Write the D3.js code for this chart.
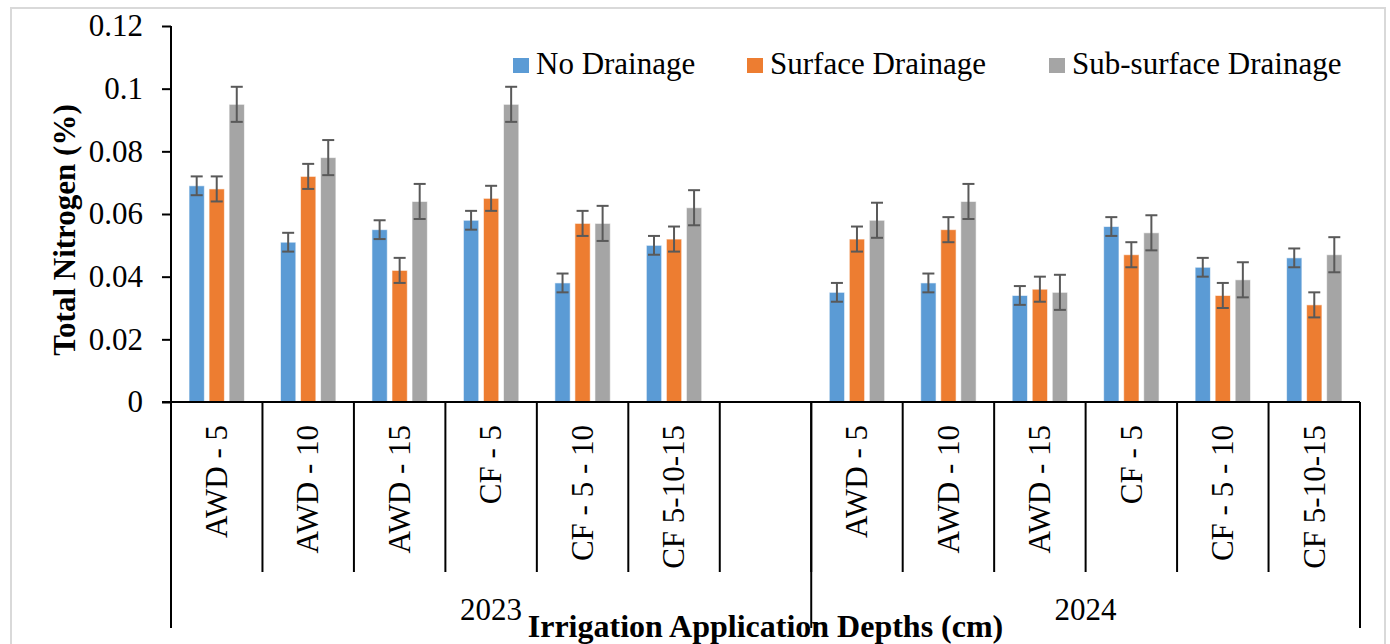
<!DOCTYPE html>
<html>
<head>
<meta charset="utf-8">
<script src="https://cdn.jsdelivr.net/npm/d3@7"></script>
<style>
  body { margin: 0; background: #fff; }
  text { font-family: "Liberation Serif", "Times New Roman", serif; fill: #000; }
</style>
</head>
<body>
<script>
var
  years = ['2023', '2024'],
  treatments = ['AWD - 5', 'AWD - 10', 'AWD - 15', 'CF - 5', 'CF - 5 - 10', 'CF 5-10-15'],
  seriesNames = ['No Drainage', 'Surface Drainage', 'Sub-surface Drainage'],
  seriesColors = ['#5B9BD5', '#ED7D31', '#A5A5A5'],

  // values per year, in treatment order
  noDrainage = {
    '2023': [0.069, 0.051, 0.055, 0.058, 0.038, 0.050],
    '2024': [0.035, 0.038, 0.034, 0.056, 0.043, 0.046]
  },
  surfaceDrainage = {
    '2023': [0.068, 0.072, 0.042, 0.065, 0.057, 0.052],
    '2024': [0.052, 0.055, 0.036, 0.047, 0.034, 0.031]
  },
  subSurfaceDrainage = {
    '2023': [0.095, 0.078, 0.064, 0.095, 0.057, 0.062],
    '2024': [0.058, 0.064, 0.035, 0.054, 0.039, 0.047]
  },
  errors = [0.003, 0.004, 0.0056],

  yTicks = [0, 0.02, 0.04, 0.06, 0.08, 0.1, 0.12],
  yTickLabels = ['0', '0.02', '0.04', '0.06', '0.08', '0.1', '0.12'],

  config = {
    w : 1390,
    h : 644,
    left : 171,
    right : 1360,
    top : 26,
    bottom : 402
  },

  // slot keys: 2023 has a trailing empty slot
  slotKeys = function slotKeys() {
    var keys = [];
    years.forEach(function (y, i) {
      treatments.forEach(function (t) { keys.push(y + '|' + t); });
      if (i === 0) { keys.push(y + '|'); }
    });
    return keys;
  },

  buildData = function buildData() {
    var
      out = [],
      all = [noDrainage, surfaceDrainage, subSurfaceDrainage];

    years.forEach(function (y) {
      treatments.forEach(function (t, ti) {
        all.forEach(function (s, si) {
          out.push({ key: y + '|' + t, series: si, value: s[y][ti], err: errors[si] });
        });
      });
    });
    return out;
  },

  draw = function draw() {
    var
      svg = d3.select('body').append('svg')
        .attr('width', config.w).attr('height', config.h),
      keys = slotKeys(),
      data = buildData(),
      x = d3.scaleBand().domain(keys).range([config.left, config.right]),
      xs = d3.scaleBand().domain([0, 1, 2]).range([0, x.bandwidth()])
        .paddingInner(0.235).paddingOuter(0.9),
      y = d3.scaleLinear().domain([0, 0.12]).range([config.bottom, config.top]),
      g;

    // chart frame
    svg.append('rect')
      .attr('x', 11).attr('y', 8).attr('width', 1374).attr('height', 660)
      .attr('fill', 'none').attr('stroke', '#d9d9d9').attr('stroke-width', 2);

    // bars
    svg.append('g').selectAll('rect').data(data).enter().append('rect')
      .attr('x', function (d) { return x(d.key) + xs(d.series); })
      .attr('y', function (d) { return y(d.value); })
      .attr('width', xs.bandwidth())
      .attr('height', function (d) { return y(0) - y(d.value); })
      .attr('fill', function (d) { return seriesColors[d.series]; })
      .attr('stroke', 'rgba(255,255,255,0.6)').attr('stroke-width', 1);

    // error bars
    g = svg.append('g').attr('stroke', '#595959').attr('stroke-width', 2);
    data.forEach(function (d) {
      var cx = x(d.key) + xs(d.series) + xs.bandwidth() / 2;
      g.append('line').attr('x1', cx).attr('x2', cx)
        .attr('y1', y(d.value + d.err)).attr('y2', y(d.value - d.err));
      [d.value + d.err, d.value - d.err].forEach(function (v) {
        g.append('line').attr('x1', cx - 6).attr('x2', cx + 6)
          .attr('y1', y(v)).attr('y2', y(v));
      });
    });

    // y axis
    g = svg.append('g').attr('transform', 'translate(' + config.left + ',0)')
      .call(d3.axisLeft(y).tickValues(yTicks).tickSize(9).tickPadding(19)
        .tickFormat(function (d, i) { return yTickLabels[i]; }));
    g.select('.domain').attr('stroke', '#000').attr('stroke-width', 2)
      .attr('d', 'M0,' + config.top + 'V' + config.bottom);
    g.selectAll('.tick line').attr('stroke', '#000').attr('stroke-width', 2);
    g.selectAll('.tick text').attr('font-size', 31)
      .attr('font-family', '"Liberation Serif", serif').attr('fill', '#000');

    // x axis line
    g = svg.append('g').attr('transform', 'translate(0,' + config.bottom + ')')
      .call(d3.axisBottom(x).tickSize(0).tickFormat(''));
    g.select('.domain').attr('stroke', '#000').attr('stroke-width', 2)
      .attr('d', 'M' + (config.left - 9) + ',0H' + config.right);

    // category dividers
    g = svg.append('g').attr('stroke', '#000').attr('stroke-width', 2);
    keys.concat(['end']).forEach(function (k) {
      var px = k === 'end' ? config.right : x(k);
      g.append('line').attr('x1', px).attr('x2', px)
        .attr('y1', config.bottom).attr('y2', 572);
    });

    // year dividers
    [x(years[0] + '|' + treatments[0]), x(years[1] + '|' + treatments[0]), config.right]
      .forEach(function (px) {
        g.append('line').attr('x1', px).attr('x2', px)
          .attr('y1', config.bottom).attr('y2', 628);
      });

    // category labels
    svg.append('g').selectAll('text')
      .data(keys.filter(function (k) { return k.split('|')[1] !== ''; }))
      .enter().append('text')
      .attr('transform', function (k) {
        return 'translate(' + (x(k) + x.bandwidth() / 2) + ',425) rotate(-90)';
      })
      .attr('text-anchor', 'end').attr('dy', '0.33em').attr('font-size', 31)
      .text(function (k) { return k.split('|')[1]; });

    // year labels
    years.forEach(function (yr, i) {
      var
        x0 = x(yr + '|' + treatments[0]),
        x1 = i === 0 ? x(years[1] + '|' + treatments[0]) : config.right;
      svg.append('text').attr('x', (x0 + x1) / 2).attr('y', 620)
        .attr('text-anchor', 'middle').attr('font-size', 31).text(yr);
    });

    // axis titles
    svg.append('text').attr('x', (config.left + config.right) / 2).attr('y', 637)
      .attr('text-anchor', 'middle').attr('font-size', 32).attr('font-weight', 'bold')
      .text('Irrigation Application Depths (cm)');
    svg.append('text').attr('transform', 'translate(75,230) rotate(-90)')
      .attr('text-anchor', 'middle').attr('font-size', 31).attr('font-weight', 'bold')
      .text('Total Nitrogen (%)');

    // legend
    var legendX = [513, 747, 1049];
    g = svg.append('g');
    seriesNames.forEach(function (name, i) {
      g.append('rect').attr('x', legendX[i]).attr('y', 58)
        .attr('width', 16).attr('height', 15).attr('fill', seriesColors[i]);
      g.append('text').attr('x', legendX[i] + 23).attr('y', 74)
        .attr('font-size', 31).text(name);
    });
  };

window.addEventListener('load', draw, false);
</script>
</body>
</html>
